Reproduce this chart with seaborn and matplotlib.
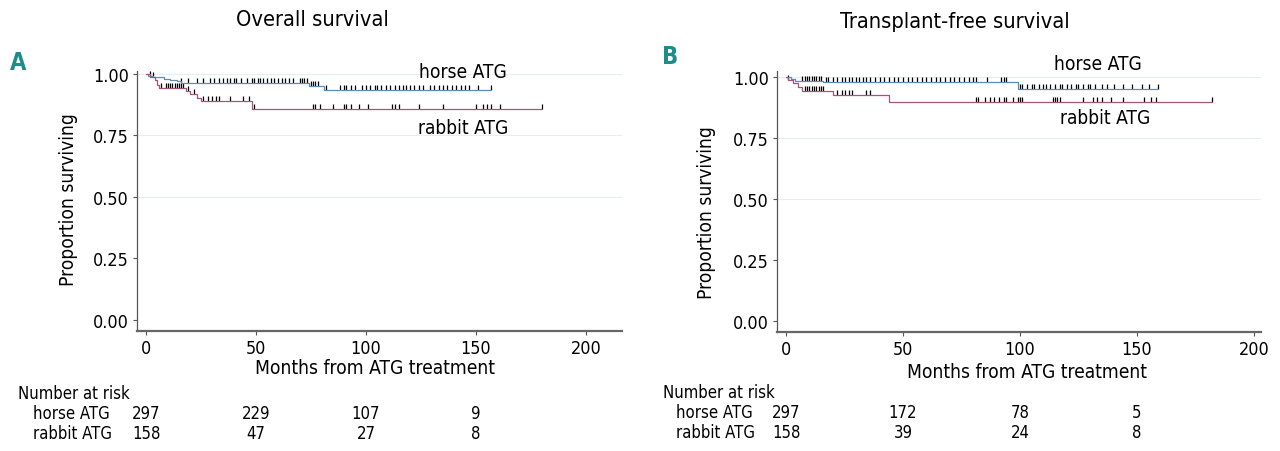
import numpy as np
import pandas as pd
import matplotlib
matplotlib.use("Agg")
import matplotlib.pyplot as plt
import matplotlib.font_manager as fm
from matplotlib.path import Path
from matplotlib.transforms import blended_transform_factory
import seaborn as sns

# ── Data ───────────────────────────────────────────────────────────────────────
GROUPS = ["horse ATG", "rabbit ATG"]

# Overall survival: step changes (months, proportion surviving)
os_horse_t = [0, 1, 3, 8, 11, 14, 16, 74, 81]
os_horse_s = [1.0, 0.993, 0.987, 0.98, 0.975, 0.97, 0.965, 0.952, 0.935]
os_horse_end = 157
os_rabbit_t = [0, 2, 4, 5, 6, 18, 20, 23, 25, 48]
os_rabbit_s = [1.0, 0.987, 0.975, 0.955, 0.943, 0.93, 0.918, 0.903, 0.89, 0.856]
os_rabbit_end = 180

os_horse_cens = [2, 16, 19, 23, 26, 29, 31, 33, 35, 37, 38, 40, 41, 43, 46, 48,
                 49, 51, 52, 53, 55, 57, 58, 60, 62, 63, 65, 67, 70, 71, 72, 73,
                 75, 76, 77, 78, 82, 88, 90, 91, 93, 95, 98, 100, 102, 104, 105,
                 107, 109, 111, 113, 115, 117, 118, 120, 122, 124, 126, 129, 131,
                 133, 135, 137, 139, 141, 143, 145, 147, 151, 157]
os_rabbit_cens = [3, 7, 9, 10, 11, 12, 13, 14, 15, 16, 17, 19, 22, 26, 28, 30,
                  32, 33, 38, 44, 47, 49, 76, 77, 79, 85, 90, 91, 93, 97, 101,
                  112, 113, 115, 124, 135, 150, 153, 155, 157, 161, 180]

# Transplant-free survival
tfs_horse_t = [0, 2, 4, 16, 99]
tfs_horse_s = [1.0, 0.992, 0.986, 0.979, 0.95]
tfs_horse_end = 159
tfs_rabbit_t = [0, 1, 3, 5, 7, 20, 44]
tfs_rabbit_s = [1.0, 0.99, 0.975, 0.96, 0.945, 0.925, 0.898]
tfs_rabbit_end = 182

tfs_horse_cens = [7, 8, 9, 10, 11, 12, 13, 14, 15, 17, 18, 20, 22, 24, 25, 27,
                  28, 30, 31, 33, 34, 36, 38, 40, 42, 44, 46, 48, 50, 52, 54, 56,
                  58, 60, 62, 64, 66, 68, 70, 72, 74, 76, 78, 80, 81, 86, 92, 93,
                  94, 100, 101, 103, 105, 106, 108, 110, 111, 113, 115, 117, 118,
                  120, 122, 124, 125, 127, 129, 130, 132, 135, 137, 140, 144, 148,
                  152, 155, 159]
tfs_rabbit_cens = [1, 8, 9, 10, 11, 12, 13, 14, 15, 16, 22, 24, 25, 27, 28, 34,
                   36, 81, 82, 85, 87, 89, 91, 93, 94, 97, 99, 100, 101, 114, 115,
                   116, 117, 127, 131, 133, 135, 139, 144, 153, 156, 158, 182]

# Number at risk
risk_times = [0, 50, 100, 150]
os_risk_horse = [297, 229, 107, 9]
os_risk_rabbit = [158, 47, 27, 8]
tfs_risk_horse = [297, 172, 78, 5]
tfs_risk_rabbit = [158, 39, 24, 8]

# ── Style ──────────────────────────────────────────────────────────────────────
sns.set_theme(style="white")
fonts = fm.fontManager.ttflist
names = {f.name for f in fonts}
condensed = [f for f in fonts if f.name == "DejaVu Sans"
             and f.stretch in ("condensed", "semi-condensed", 500 - 100)]
if "Liberation Sans Narrow" in names:
    plt.rcParams["font.family"] = ["Liberation Sans Narrow", "DejaVu Sans"]
    SHRINK = 1.0
elif condensed:
    plt.rcParams["font.family"] = ["DejaVu Sans"]
    plt.rcParams["font.stretch"] = "condensed"
    SHRINK = 0.92
else:
    plt.rcParams["font.family"] = ["Liberation Sans", "DejaVu Sans"]
    SHRINK = 0.95
plt.rcParams["text.color"] = "black"
plt.rcParams["xtick.color"] = "black"
plt.rcParams["ytick.color"] = "black"

COLORS = {"horse ATG": "#5b8db8", "rabbit ATG": "#a05878"}
GRID = "#e4f0f0"
TEAL = "#1f8c8c"
W, H = 1280, 452
TICK = Path([(0, 0), (0, 1)])


def fs(v):
    return v * SHRINK


def px(x, y):
    return x / W, 1 - y / H


def curve_frame(t, s, end, group):
    return pd.DataFrame({"month": list(t) + [end],
                         "surv": list(s) + [s[-1]],
                         "group": group})


def cens_frame(t, s, cens, group):
    idx = np.searchsorted(np.asarray(t), np.asarray(cens), side="right") - 1
    return pd.DataFrame({"month": cens, "surv": np.asarray(s)[idx], "group": group})


def panel(fig, rect, xlim, ylim, curves, cens, risk, letter, title, lay):
    ax = fig.add_axes(rect)
    df = pd.concat(curves, ignore_index=True)
    for g in GROUPS:
        sns.lineplot(data=df[df.group == g], x="month", y="surv",
                     color=COLORS[g], drawstyle="steps-post", estimator=None,
                     sort=False, linewidth=0.9, ax=ax, legend=False)
    cf = pd.concat(cens, ignore_index=True)
    sns.scatterplot(data=cf, x="month", y="surv", marker=TICK, s=60,
                    color="black", edgecolor="black", linewidth=0.9,
                    ax=ax, legend=False)

    ax.set_xlim(*xlim)
    ax.set_ylim(*ylim)
    ax.set_xticks([0, 50, 100, 150, 200])
    ax.set_yticks([0, 0.25, 0.5, 0.75, 1.0])
    ax.set_yticklabels(["0.00", "0.25", "0.50", "0.75", "1.00"])
    for yv in [0.5, 0.75, 1.0]:
        ax.axhline(yv, color=GRID, lw=0.8, zorder=0)
    ax.set_xlabel("")
    ax.set_ylabel("")
    ax.tick_params(axis="both", labelsize=fs(14), length=3, width=0.8,
                   color="#555555", pad=3, left=True, bottom=True)
    for side in ["top", "right"]:
        ax.spines[side].set_visible(False)
    ax.spines["left"].set_color("#555555")
    ax.spines["left"].set_linewidth(0.9)
    ax.spines["bottom"].set_color("#666666")
    ax.spines["bottom"].set_linewidth(1.6)

    fig.text(*px(*lay["letter"]), letter, color=TEAL, fontsize=17,
             fontweight="bold", ha="center", va="center")
    fig.text(*px(*lay["title"]), title, fontsize=fs(17), ha="center", va="center")
    fig.text(*px(*lay["ylabel"]), "Proportion surviving", fontsize=fs(15),
             rotation=90, ha="center", va="center")
    fig.text(*px(*lay["xlabel"]), "Months from ATG treatment", fontsize=fs(15),
             ha="center", va="center")
    fig.text(*px(*lay["horse"]), "horse ATG", fontsize=fs(15), ha="center", va="center")
    fig.text(*px(*lay["rabbit"]), "rabbit ATG", fontsize=fs(15), ha="center", va="center")

    # number-at-risk table
    fig.text(*px(*lay["risk"]), "Number at risk", fontsize=fs(13),
             ha="left", va="center")
    tr = blended_transform_factory(ax.transData, fig.transFigure)
    rows = [("horse ATG", risk[0], lay["risk"][1] + 20),
            ("rabbit ATG", risk[1], lay["risk"][1] + 40)]
    for name, vals, yy in rows:
        fig.text(*px(lay["rowx"], yy), name, fontsize=fs(13), ha="left", va="center")
        for t, v in zip(risk_times, vals):
            ax.text(t, 1 - yy / H, str(v), transform=tr, fontsize=fs(13),
                    ha="center", va="center")
    return ax


fig = plt.figure(figsize=(12.8, 4.52), dpi=100)

panel(fig, [137 / W, 120 / H, 485 / W, 260 / H], (-4.1, 216.4), (-0.045, 1.012),
      [curve_frame(os_horse_t, os_horse_s, os_horse_end, "horse ATG"),
       curve_frame(os_rabbit_t, os_rabbit_s, os_rabbit_end, "rabbit ATG")],
      [cens_frame(os_horse_t, os_horse_s, os_horse_cens, "horse ATG"),
       cens_frame(os_rabbit_t, os_rabbit_s, os_rabbit_cens, "rabbit ATG")],
      (os_risk_horse, os_risk_rabbit), "A", "Overall survival",
      dict(letter=(18, 63), title=(312, 20), ylabel=(68, 200), xlabel=(375, 368),
           horse=(463, 72), rabbit=(463, 128), risk=(18, 394), rowx=33))

panel(fig, [777 / W, 119 / H, 484 / W, 261 / H], (-3.85, 203), (-0.045, 1.025),
      [curve_frame(tfs_horse_t, tfs_horse_s, tfs_horse_end, "horse ATG"),
       curve_frame(tfs_rabbit_t, tfs_rabbit_s, tfs_rabbit_end, "rabbit ATG")],
      [cens_frame(tfs_horse_t, tfs_horse_s, tfs_horse_cens, "horse ATG"),
       cens_frame(tfs_rabbit_t, tfs_rabbit_s, tfs_rabbit_cens, "rabbit ATG")],
      (tfs_risk_horse, tfs_risk_rabbit), "B", "Transplant-free survival",
      dict(letter=(670, 57), title=(955, 22), ylabel=(706, 213), xlabel=(1027, 373),
           horse=(1098, 65), rabbit=(1105, 118), risk=(663, 393), rowx=676))

fig.savefig("out.png", dpi=100)
